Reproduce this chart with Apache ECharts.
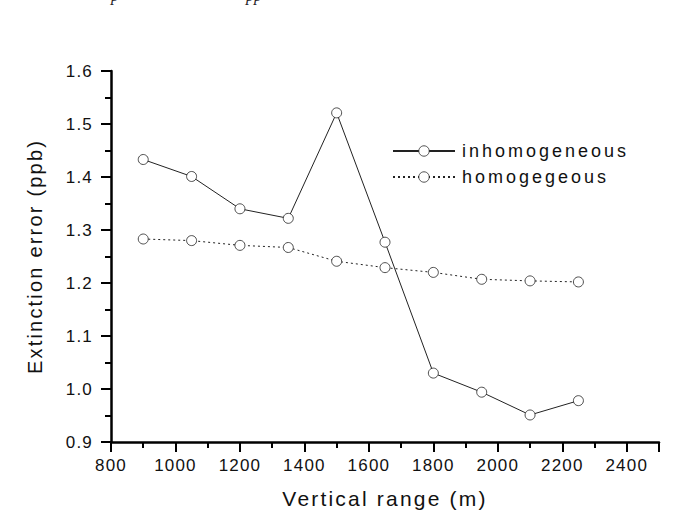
<!DOCTYPE html>
<html><head><meta charset="utf-8">
<script src="https://cdn.jsdelivr.net/npm/echarts@6/dist/echarts.min.js"></script>
<style>
html,body{margin:0;padding:0;background:#fff;}
#c{width:675px;height:515px;}
#c text[style*="17px"]{letter-spacing:1.2px;}
#c text[style*="18px"]{letter-spacing:3px;}
#c text[style*="20px"]{letter-spacing:2.2px;}
#c text[style*="21px"]{letter-spacing:2.2px;}
</style>
</head><body>
<div id="c"></div>
<script>
const xValues = [900, 1050, 1200, 1350, 1500, 1650, 1800, 1950, 2100, 2250];
const inhomogeneous = [1.433, 1.401, 1.340, 1.322, 1.521, 1.277, 1.030, 0.994, 0.951, 0.978];
const homogeneous = [1.283, 1.280, 1.271, 1.267, 1.241, 1.229, 1.220, 1.207, 1.204, 1.202];
const seriesNames = ['inhomogeneous', 'homogegeous'];
const xTitle = 'Vertical range (m)';
const yTitle = 'Extinction error (ppb)';

const font = "'Liberation Sans', Arial, sans-serif";
const chart = echarts.init(document.getElementById('c'), null, {renderer: 'svg'});
const pair = (xs, ys) => xs.map((x, i) => [x, ys[i]]);
const markStyle = {color: '#fff', borderColor: '#222', borderWidth: 0.8};
chart.setOption({
  animation: false,
  backgroundColor: '#fff',
  textStyle: {fontFamily: font, color: '#111'},
  grid: {left: 111, right: 16, top: 71, bottom: 73},
  graphic: [
    {type: 'text', left: 111, top: -13, style: {text: 'p', font: "italic 16px 'Liberation Serif'", fill: '#222'}},
    {type: 'text', left: 246, top: -13, style: {text: 'pp', font: "italic 16px 'Liberation Serif'", fill: '#222'}}
  ],
  legend: {
    orient: 'vertical', left: 392, top: 142, padding: 0,
    itemWidth: 62, itemHeight: 13, itemGap: 8,
    itemStyle: {color: '#fff', borderColor: '#222', borderWidth: 0.8},
    textStyle: {fontSize: 18, fontFamily: font, color: '#111', padding: [0, 0, 0, 2]},
    data: seriesNames
  },
  xAxis: {
    type: 'value', min: 800, max: 2500, interval: 200,
    name: xTitle, nameLocation: 'middle', nameGap: 46,
    nameTextStyle: {fontSize: 21, fontFamily: font, color: '#111'},
    axisLine: {lineStyle: {color: '#000', width: 2.5}},
    axisTick: {length: 10, lineStyle: {color: '#000', width: 2}},
    minorTick: {show: true, splitNumber: 2, length: 6, lineStyle: {color: '#000', width: 2}},
    axisLabel: {fontSize: 17, fontFamily: font, color: '#111', margin: 15, showMaxLabel: false, formatter: v => String(v)},
    splitLine: {show: false}
  },
  yAxis: {
    type: 'value', min: 0.9, max: 1.6, interval: 0.1,
    name: yTitle, nameLocation: 'middle', nameGap: 66, nameRotate: 90,
    nameTextStyle: {fontSize: 20, fontFamily: font, color: '#111'},
    axisLine: {lineStyle: {color: '#000', width: 2.5}},
    axisTick: {length: 10, lineStyle: {color: '#000', width: 2}},
    minorTick: {show: true, splitNumber: 2, length: 6, lineStyle: {color: '#000', width: 2}},
    axisLabel: {fontSize: 17, fontFamily: font, color: '#111', margin: 18, formatter: v => v.toFixed(1)},
    splitLine: {show: false}
  },
  series: [
    {
      name: seriesNames[0], type: 'line', data: pair(xValues, inhomogeneous),
      symbol: 'circle', symbolSize: 10,
      lineStyle: {color: '#222', width: 1},
      itemStyle: markStyle
    },
    {
      name: seriesNames[1], type: 'line', data: pair(xValues, homogeneous),
      symbol: 'circle', symbolSize: 10,
      lineStyle: {color: '#222', width: 1, type: [2, 3]},
      itemStyle: markStyle
    }
  ]
});
</script>
</body></html>
